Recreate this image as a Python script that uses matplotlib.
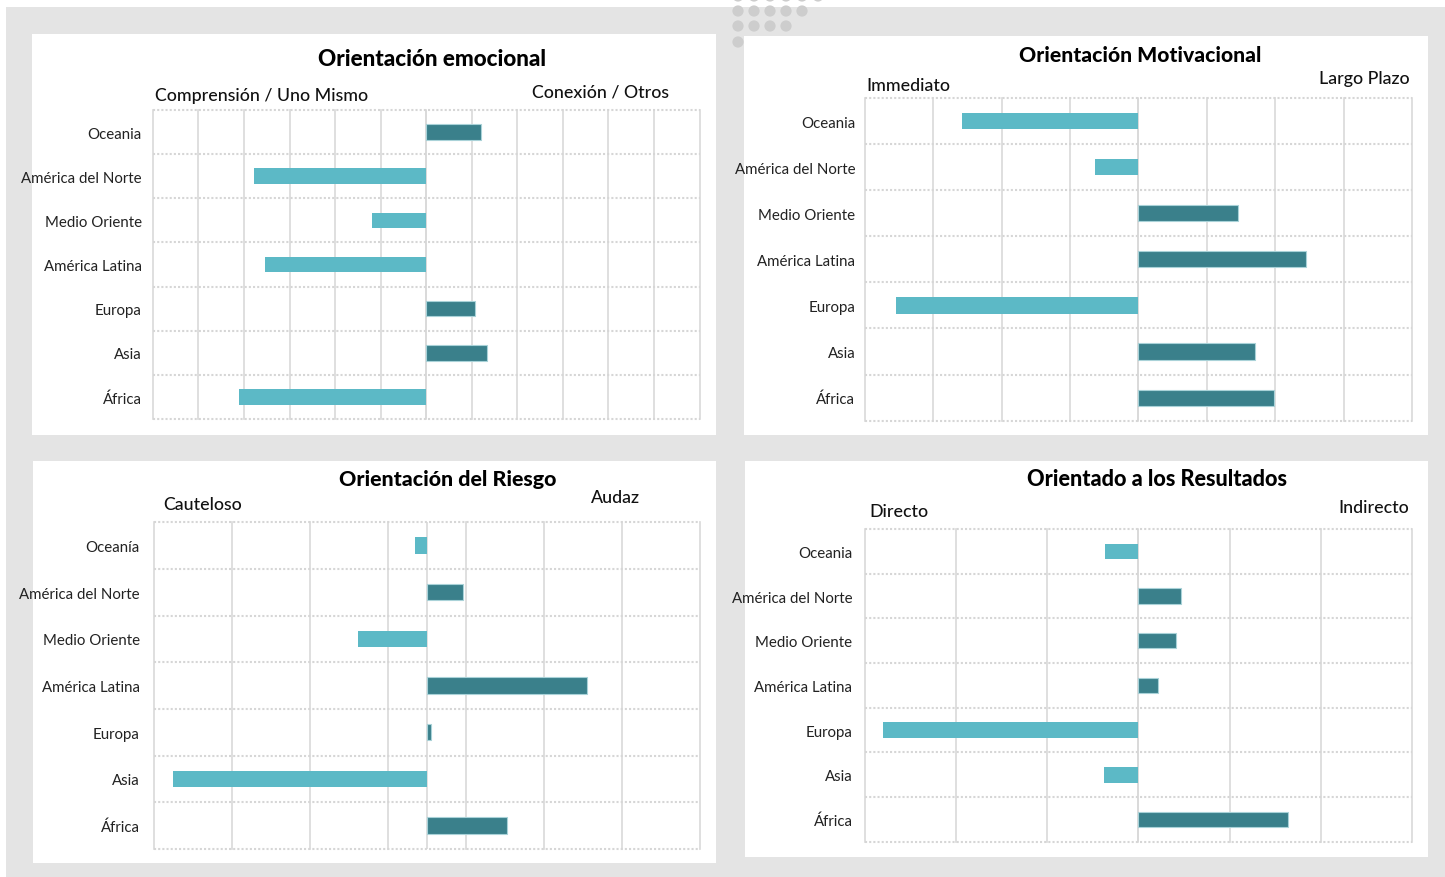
import matplotlib
matplotlib.use("Agg")
import matplotlib.pyplot as plt
from matplotlib.patches import Rectangle, Circle
import numpy as np

# ---------------- data ----------------
regiones = ["Oceania", "América del Norte", "Medio Oriente", "América Latina",
            "Europa", "Asia", "África"]
regiones_riesgo = ["Oceanía", "América del Norte", "Medio Oriente", "América Latina",
                   "Europa", "Asia", "África"]

emocional = [1.20, -3.77, -1.20, -3.54, 1.08, 1.34, -4.10]
motivacional = [-2.58, -0.63, 1.46, 2.45, -3.55, 1.70, 1.98]
riesgo = [-0.15, 0.46, -0.88, 2.05, 0.05, -3.25, 1.03]
resultados = [-0.37, 0.47, 0.41, 0.21, -2.80, -0.38, 1.64]

titulos = ["Orientación emocional", "Orientación Motivacional",
           "Orientación del Riesgo", "Orientado a los Resultados"]
izquierda = ["Comprensión / Uno Mismo", "Immediato", "Cauteloso", "Directo"]
derecha = ["Conexión / Otros", "Largo Plazo", "Audaz", "Indirecto"]

# ---------------- style ----------------
W, H = 1445, 878
FONT = "Lato"
DARK = "#3a808b"
LIGHT = "#5cb9c6"
GRID = "#d9d9d9"
BG = "#e4e4e4"

plt.rcParams["font.family"] = [FONT, "DejaVu Sans"]

fig = plt.figure(figsize=(W / 100, H / 100), dpi=100)
fig.patch.set_facecolor("white")

bg = fig.add_axes([0, 0, 1, 1], zorder=0)
bg.set_xlim(0, W)
bg.set_ylim(H, 0)
bg.axis("off")
bg.add_patch(Rectangle((6, 8), W - 6, H - 8, color=BG, lw=0))

panels = [(32, 35, 716, 436), (744, 37, 1428, 436),
          (33, 462, 716, 864), (745, 462, 1428, 858)]
for (x0, y0, x1, y1) in panels:
    bg.add_patch(Rectangle((x0, y0), x1 - x0, y1 - y0, color="white", lw=0))

# decorative dots
dot_rows = [(-3, 6), (12, 5), (27, 4), (43, 1)]
for yy, n in dot_rows:
    for i in range(n):
        bg.add_patch(Circle((738 + 16 * i, yy), 5.6, color="#cdcdcd", lw=0))


def px_rect(x0, y0, x1, y1):
    return [x0 / W, 1 - y1 / H, (x1 - x0) / W, (y1 - y0) / H]


def draw(rect, cats, vals, lim, ticks, pad):
    ax = fig.add_axes(px_rect(*rect), zorder=2)
    ax.set_facecolor("none")
    ax.set_xlim(-lim, lim)
    ax.set_ylim(len(cats) - 0.5, -0.5)
    for t in ticks:
        ax.axvline(t, color=GRID, lw=1.2, zorder=1, clip_on=False)
    ax.axvline(0, color=GRID, lw=1.2, zorder=1)
    for yb in np.arange(-0.5, len(cats) + 0.5, 1.0):
        ax.axhline(yb, color="#d6d6d6", lw=1.5, ls=(0, (1, 1)), zorder=1,
                   clip_on=False)
    for i, v in enumerate(vals):
        if v >= 0:
            ax.barh(i, v, height=0.35, left=0, color=DARK, edgecolor="#a9d2d8",
                    lw=0.8, zorder=3)
        else:
            ax.barh(i, v, height=0.35, left=0, color=LIGHT, lw=0, zorder=3)
    ax.set_yticks(range(len(cats)))
    ax.set_yticklabels(cats, fontsize=10.8, color="#222222")
    ax.tick_params(axis="y", length=0, pad=pad)
    ax.set_xticks([])
    for s in ax.spines.values():
        s.set_visible(False)
    return ax


draw((152.8, 111, 699.6, 420), regiones, emocional, 6, np.arange(-6, 7, 1), 8)
draw((865, 99, 1411.9, 421.7), regiones, motivacional, 4, np.arange(-4, 5, 1), 7)
draw((153.7, 523.3, 699.6, 850), regiones_riesgo, riesgo, 3.5,
     np.arange(-3.5, 3.6, 1), 10)
draw((865, 530, 1411.9, 842.7), regiones, resultados, 3, np.arange(-3, 4, 1), 9)


def ftext(x, y, s, **kw):
    fig.text(x / W, 1 - y / H, s, va="center", **kw)


title_pos = [(432, 60), (1140, 55), (448, 480), (1157, 480)]
title_size = [16.2, 15.2, 15.4, 15.6]
for (x, y), t, fs in zip(title_pos, titulos, title_size):
    ftext(x, y, t, ha="center", fontsize=fs, fontweight=900, color="black")

left_pos = [(155, 96), (866, 86), (163, 505), (869, 512)]
right_pos = [(669, 92), (1410, 79), (640, 498), (1409, 508)]
for (x, y), t in zip(left_pos, izquierda):
    ftext(x, y, t, ha="left", fontsize=12.8, fontweight="medium", color="#111111")
for (x, y), t in zip(right_pos, derecha):
    ftext(x, y, t, ha="right", fontsize=12.8, fontweight="medium", color="#111111")

fig.savefig("out.png", dpi=100)
